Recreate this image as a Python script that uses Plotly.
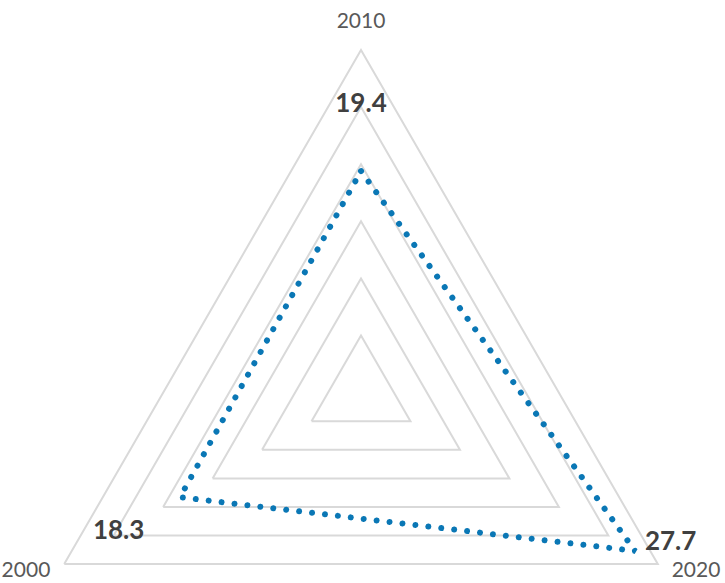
import plotly.graph_objects as go

# ---- data ----
categories = ["2010", "2020", "2000"]
values = [19.4, 27.7, 18.3]
grid_values = [5, 10, 15, 20, 25, 30]

# ---- label styling (radial positions in axis units, not data) ----
label_offsets = [5.7, 1.0, 6.2]
label_positions = ["middle center", "top right", "middle center"]
cat_label_r = [31.5, 31.4, 31.4]
cat_label_pos = ["top center", "middle right", "middle left"]
axis_max = 31.5

W, H = 725, 760
cx, cy = 361.0, 392.7           # polar centre in px (from top-left)
R = 342.7 * axis_max / 30.0     # px radius of the polar area

fig = go.Figure()
fig.add_trace(go.Scatterpolar(
    r=values + values[:1],
    theta=categories + categories[:1],
    mode="lines",
    line=dict(color="#0A77B5", width=6, dash="6px,7px"),
    hoverinfo="skip",
    showlegend=False,
))
fig.add_trace(go.Scatterpolar(
    r=[v + o for v, o in zip(values, label_offsets)],
    theta=categories,
    mode="text",
    text=[f"{v:.1f}" for v in values],
    textposition=label_positions,
    textfont=dict(family="Lato", size=26, color="#404040", weight="bold"),
    cliponaxis=False,
    hoverinfo="skip",
    showlegend=False,
))
fig.add_trace(go.Scatterpolar(
    r=cat_label_r,
    theta=categories,
    mode="text",
    text=categories,
    textposition=cat_label_pos,
    textfont=dict(family="Lato", size=21, color="#595959"),
    cliponaxis=False,
    hoverinfo="skip",
    showlegend=False,
))

fig.update_layout(
    width=W, height=H,
    margin=dict(l=0, r=0, t=0, b=0),
    paper_bgcolor="white",
    plot_bgcolor="white",
    showlegend=False,
    polar=dict(
        gridshape="linear",
        bgcolor="white",
        domain=dict(
            x=[(cx - R) / W, (cx + R) / W],
            y=[(H - cy - R) / H, (H - cy + R) / H],
        ),
        radialaxis=dict(
            range=[0, axis_max], tickvals=grid_values,
            showticklabels=False, ticks="", showline=False,
            gridcolor="#D9D9D9", gridwidth=1.8,
        ),
        angularaxis=dict(
            type="category",
            categoryarray=categories,
            direction="clockwise",
            rotation=90,
            showgrid=False,
            showticklabels=False, ticks="",
            showline=False,
        ),
    ),
)

post = """
document.body.style.margin='0';
document.body.style.overflow='hidden';
document.documentElement.style.overflow='hidden';
var gd = document.getElementById('{plot_id}');
function roundDots(){
  gd.querySelectorAll('.scatterlayer .js-line').forEach(function(p){
    p.style.strokeLinecap='round';
    p.style.strokeDasharray='0.01px,13px';
  });
}
roundDots();
if (gd.on) { gd.on('plotly_afterplot', roundDots); }
setTimeout(roundDots, 30);
"""

fig.write_html("out.html", config={"displayModeBar": False}, post_script=post)
